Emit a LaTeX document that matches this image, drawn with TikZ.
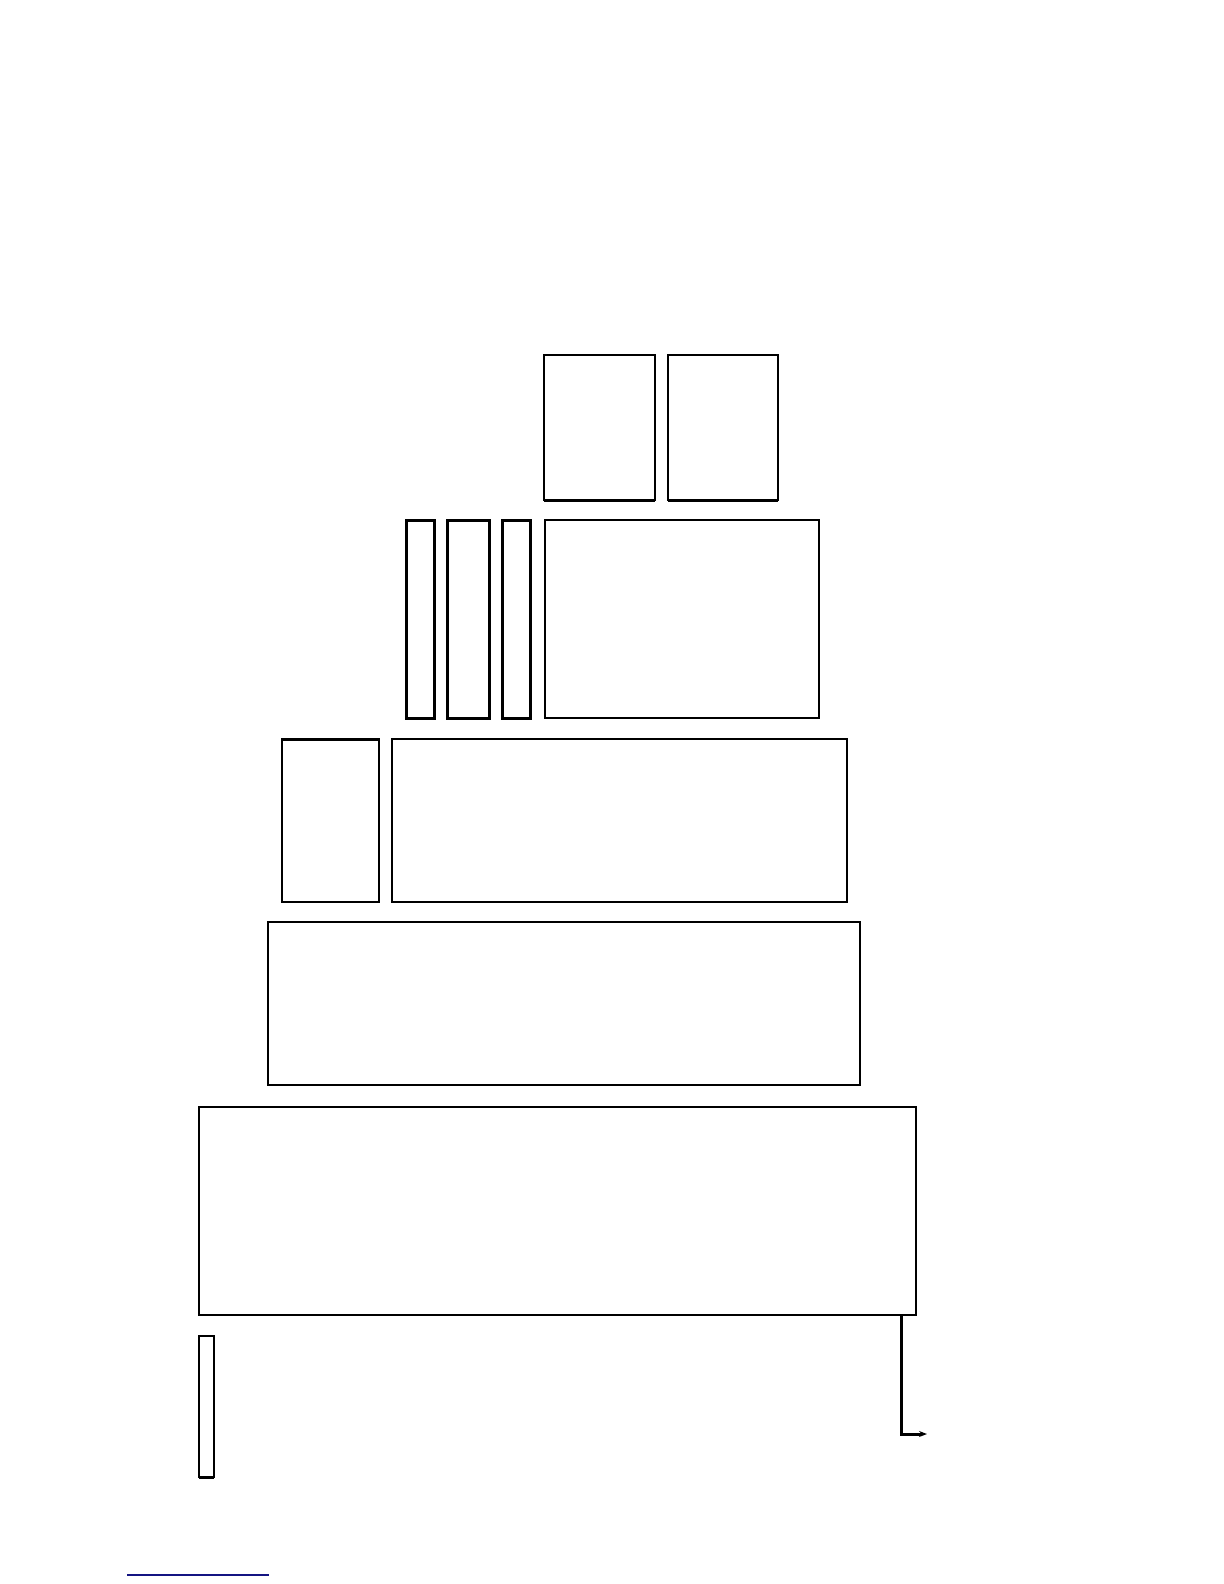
\documentclass[tikz,border=0pt]{standalone}
\usetikzlibrary{arrows.meta}
\definecolor{linkblue}{RGB}{20,20,130}
\begin{document}
\begin{tikzpicture}[x=0.5pt,y=-0.5pt,
  box/.style={draw=black,line width=1pt,fill=white,inner sep=0pt,outer sep=0pt,anchor=north west},
  thickbox/.style={box,line width=1.5pt}]
\useasboundingbox (0,0) rectangle (1224,1584);
% top row
\node[box,minimum width=55.5pt,minimum height=72.5pt] (A) at (544,355) {};
\node[box,minimum width=55pt,minimum height=72.5pt] (B) at (668,355) {};
\draw[line width=1.5pt] (A.south west) -- (A.south east);
\draw[line width=1.5pt] (B.south west) -- (B.south east);
% second row
\node[thickbox,minimum width=14pt,minimum height=99pt] (C1) at (406,520) {};
\node[thickbox,minimum width=21pt,minimum height=99pt] (C2) at (447,520) {};
\node[thickbox,minimum width=14pt,minimum height=99pt] (C3) at (502,520) {};
\node[box,minimum width=137pt,minimum height=99pt] (C4) at (545,520) {};
% third row
\node[box,minimum width=48.5pt,minimum height=81.5pt] (D1) at (282,739) {};
\node[box,minimum width=227.5pt,minimum height=81.5pt] (D2) at (392,739) {};
\draw[line width=1.5pt] (D1.north west) -- (D1.north east);
% fourth row
\node[box,minimum width=296pt,minimum height=81.5pt] (E) at (268,922) {};
% fifth row
\node[box,minimum width=358.5pt,minimum height=104pt] (F) at (199,1107) {};
% small bottom box
\node[box,minimum width=7.5pt,minimum height=70.5pt] (G) at (199,1336) {};
\draw[line width=1.5pt] (G.south west) -- (G.south east);
% arrow
\coordinate (a0) at (901,1315);
\coordinate (a1) at (901,1434);
\coordinate (a2) at (927,1434);
\draw[line width=1.5pt,-{Stealth[length=4pt,width=3pt]}] (a0) -- (a1) -- (a2);
% blue line
\coordinate (l1) at (127,1575);
\coordinate (l2) at (269,1575);
\draw[linkblue,line width=0.8pt] (l1) -- (l2);
\end{tikzpicture}
\end{document}
